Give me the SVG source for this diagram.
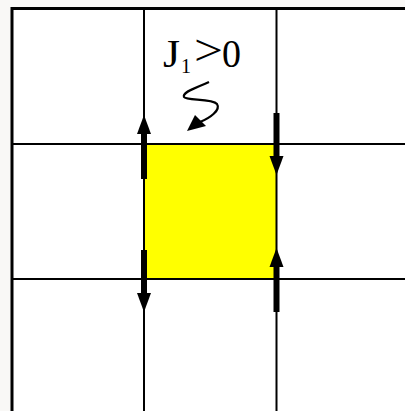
<svg xmlns="http://www.w3.org/2000/svg" width="405" height="411" viewBox="0 0 405 411">
<defs>
<style>
.grid{stroke:#000;stroke-width:2;fill:none}
.bar{stroke:#000;stroke-width:6;fill:none}
.head{fill:#000}
.lbl{font-family:"Liberation Serif","Times New Roman",serif;fill:#000}
</style>
</defs>
<rect x="0" y="0" width="405" height="411" fill="#f9f8f6"/>
<rect x="12" y="8.5" width="393" height="402.5" fill="#fff"/>
<g id="plaquette"><rect x="145" y="145" width="131" height="134" fill="#ffff00"/></g>
<g id="grid">
<line class="grid" x1="12" y1="8.5" x2="405" y2="8.5" style="stroke-width:3"/>
<line class="grid" x1="12" y1="7" x2="12" y2="411" style="stroke-width:3"/>
<line class="grid" x1="144" y1="8.5" x2="144" y2="411"/>
<line class="grid" x1="276.5" y1="8.5" x2="276.5" y2="411"/>
<line class="grid" x1="12" y1="144" x2="405" y2="144"/>
<line class="grid" x1="12" y1="279" x2="405" y2="279"/>
</g>
<g id="connectors">
<g id="arrow-left-top"><line class="bar" x1="144" y1="179" x2="144" y2="130"/><path class="head" d="M144,115 L151,134 L137,134 Z"/></g>
<g id="arrow-right-top"><line class="bar" x1="276.5" y1="113" x2="276.5" y2="160"/><path class="head" d="M276.5,175 L283.5,156 L269.5,156 Z"/></g>
<g id="arrow-left-bottom"><line class="bar" x1="144" y1="250" x2="144" y2="297"/><path class="head" d="M144,312 L151,293 L137,293 Z"/></g>
<g id="arrow-right-bottom"><line class="bar" x1="276.5" y1="312" x2="276.5" y2="263"/><path class="head" d="M276.5,248 L283.5,267 L269.5,267 Z"/></g>
<g id="squiggle"><path d="M209,82 C196,88 182,92 184,97 C186,101 212,98 217,104 C221,110 210,118 200,122" stroke="#000" stroke-width="2.2" fill="none"/><path class="head" d="M187,131 L195,115 L206,126 Z"/></g>
</g>
<g id="label">
<text class="lbl" x="163" y="67" font-size="41" textLength="17" lengthAdjust="spacingAndGlyphs">J</text>
<text class="lbl" x="181" y="73" font-size="20">1</text>
<text class="lbl" x="194" y="65" font-size="44" textLength="29" lengthAdjust="spacingAndGlyphs">&gt;</text>
<text class="lbl" x="222" y="67" font-size="41" textLength="19" lengthAdjust="spacingAndGlyphs">0</text>
</g>
</svg>
